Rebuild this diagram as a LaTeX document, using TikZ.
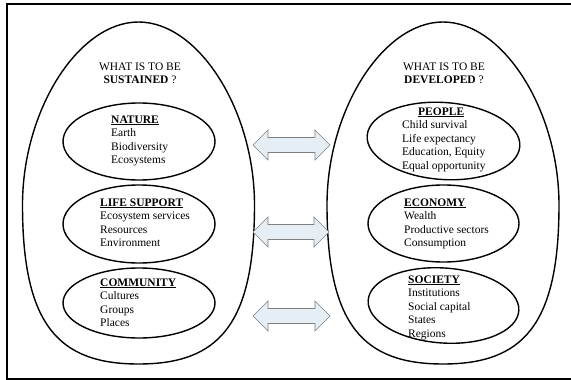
\documentclass[tikz,border=0pt]{standalone}
\usepackage{fontspec}
\setmainfont{Liberation Serif}
\usetikzlibrary{shapes.geometric,calc}
\definecolor{arrowfill}{RGB}{228,238,244}
\definecolor{arrowline}{RGB}{128,128,128}
\newcommand\headtxt[1]{\underline{\textbf{#1}}}
\newcommand\eggpath[1]{%
  \draw[egg] (#1,22) .. controls (#1+60,22) and (#1+116,110) .. (#1+116,205)
    .. controls (#1+116,325) and (#1+80,364) .. (#1,364)
    .. controls (#1-80,364) and (#1-116,325) .. (#1-116,205)
    .. controls (#1-116,110) and (#1-60,22) .. cycle;}
\newcommand\dblarrowpath[2]{%
  \draw[dblarrow] (#1) -- ++(15,-15) -- ++(0,7.5) -- ($(#2)+(-15,-7.5)$)
    -- ++(0,-7.5) -- (#2) -- ++(-15,15) -- ++(0,-7.5) -- ($(#1)+(15,7.5)$)
    -- ++(0,7.5) -- cycle;}
\begin{document}
\begin{tikzpicture}[x=1pt,y=-1pt,
  every node/.style={font=\fontsize{11.5}{13.6}\selectfont},
  egg/.style={draw=black, line width=1.4pt},
  innerell/.style={ellipse, draw=black, line width=1.4pt, inner sep=0pt},
  blk/.style={anchor=base west, inner sep=0pt},
  hdr/.style={anchor=base, inner sep=0pt},
  dblarrow/.style={draw=arrowline, fill=arrowfill, line width=0.7pt, line join=miter},
  frame/.style={draw=black, line width=1.6pt}]
\useasboundingbox (0,0) rectangle (571,380);
% frame (open at right)
\draw[frame] (580,4) -| (7,379) -- (580,379);
% outer egg shapes
\eggpath{138.5}
\eggpath{443}
% inner ellipses, left
\node[innerell, minimum width=152, minimum height=77] (nature) at (139,141.5) {};
\node[innerell, minimum width=152, minimum height=78] (life) at (139,224) {};
\node[innerell, minimum width=152, minimum height=70] (community) at (139,303) {};
% inner ellipses, right
\node[innerell, minimum width=153, minimum height=77, rotate=-4] (people) at (443.5,141) {};
\node[innerell, minimum width=151, minimum height=77] (economy) at (443.5,223.5) {};
\node[innerell, minimum width=151, minimum height=75, rotate=-4] (society) at (443.5,305.5) {};
% headers
\node[hdr] (lhead) at (140,70) {\begin{tabular}[t]{@{}c@{}}WHAT IS TO BE\\\textbf{SUSTAINED} ?\end{tabular}};
\node[hdr] (rhead) at (444,70) {\begin{tabular}[t]{@{}c@{}}WHAT IS TO BE\\\textbf{DEVELOPED} ?\end{tabular}};
% left texts
\node[blk] (natureT) at (111,123) {\begin{tabular}[t]{@{}l@{}}\headtxt{NATURE}\\Earth\\Biodiversity\\Ecosystems\end{tabular}};
\node[blk] (lifeT) at (100,206) {\begin{tabular}[t]{@{}l@{}}\headtxt{LIFE SUPPORT}\\Ecosystem services\\Resources\\Environment\end{tabular}};
\node[blk] (communityT) at (100,286) {\begin{tabular}[t]{@{}l@{}}\headtxt{COMMUNITY}\\Cultures\\Groups\\Places\end{tabular}};
% right texts
\node[blk] (peopleT) at (402,115) {\begin{tabular}[t]{@{}l@{}}\hspace*{16pt}\headtxt{PEOPLE}\\Child survival\\Life expectancy\\Education, Equity\\Equal opportunity\end{tabular}};
\node[blk] (economyT) at (404,206) {\begin{tabular}[t]{@{}l@{}}\headtxt{ECONOMY}\\Wealth\\Productive sectors\\Consumption\end{tabular}};
\node[blk] (societyT) at (408,283) {\begin{tabular}[t]{@{}l@{}}\headtxt{SOCIETY}\\Institutions\\Social capital\\States\\Regions\end{tabular}};
% double arrows
\coordinate (a1l) at (253,145);
\coordinate (a1r) at (330,145);
\coordinate (a2l) at (253,232);
\coordinate (a2r) at (329,232);
\coordinate (a3l) at (253,316);
\coordinate (a3r) at (330,316);
\dblarrowpath{a1l}{a1r}
\dblarrowpath{a2l}{a2r}
\dblarrowpath{a3l}{a3r}
\end{tikzpicture}
\end{document}
